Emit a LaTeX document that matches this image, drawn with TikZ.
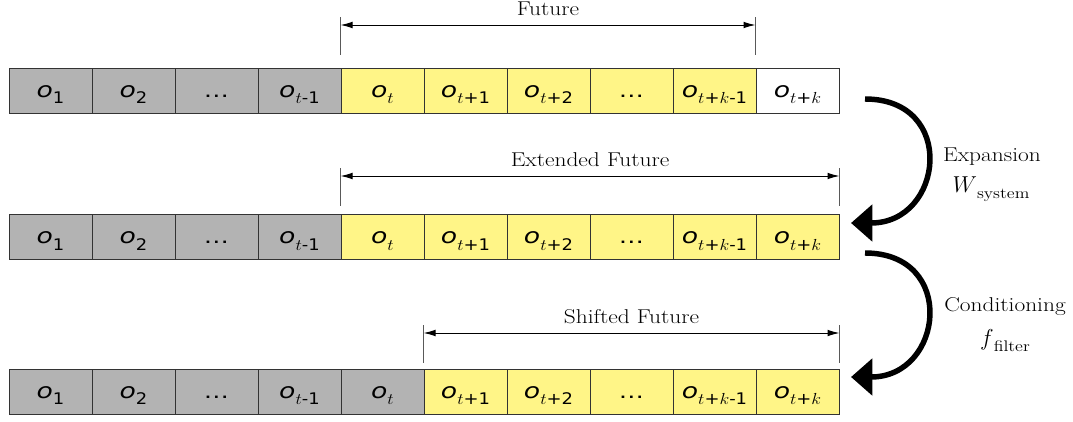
\documentclass[tikz,border=0pt]{standalone}
\usepackage{fontspec}
\usetikzlibrary{arrows.meta,positioning}
\newfontfamily\cellfont{DejaVu Sans}
\definecolor{pastgray}{RGB}{179,179,179}
\definecolor{futyellow}{RGB}{255,245,135}
\tikzset{>={Latex[length=9pt,width=5pt]}}
\newcommand{\wide}[1]{\scalebox{1.17}[1]{#1}}
\newcommand{\obs}[1]{\scalebox{1.25}[1]{\fontsize{16}{16}\selectfont\itshape o}\raisebox{-5pt}{\fontsize{12}{12}\selectfont\scalebox{1.12}[1]{#1}}}
\newcommand{\skipped}{\scalebox{1.3}[1]{…}}

\begin{document}
\begin{tikzpicture}[x=0.75pt, y=-0.75pt]
  \tikzstyle{obscell} = [draw=black!80, line width=0.75pt, minimum width=62.25pt, minimum height=33.75pt, inner sep=0pt, text height=10pt, text depth=0pt, font=\cellfont\fontsize{14.5}{16}\selectfont]
  \tikzstyle{spantick} = [draw=black!65, line width=0.6pt]
  \tikzstyle{spanarrow} = [<->, line width=0.75pt]
  \tikzstyle{lab} = [font=\fontsize{15}{17}\selectfont, inner sep=2pt]
  \tikzstyle{turnarrow} = [-{Triangle[length=16pt,width=27pt]}, line width=4.1pt]
  \useasboundingbox (0,0) rectangle (1073,421);

  % row / centre y / last grey cell / last yellow cell
  \foreach \r/\y/\ng/\ny in {1/90.5/4/9, 2/237/4/10, 3/391.5/5/10}{
    \foreach \lab [count=\i] in {\obs{1}, \obs{2}, \skipped, \obs{$t$-1}, \obs{$t$}, \obs{$t$+1}, \obs{$t$+2}, \skipped, \obs{$t$+$k$-1}, \obs{$t$+$k$}}{
      \ifnum\i>\ny \def\fc{white}\else\ifnum\i>\ng \def\fc{futyellow}\else\def\fc{pastgray}\fi\fi
      \node[obscell, fill=\fc] (c\r-\i) at ({50.5+83*(\i-1)}, \y) {\lab};
    }
  }

  \coordinate (fut-l) at (c1-5.north west |- 0,25);
  \coordinate (fut-r) at (c1-10.north west |- 0,25);
  \coordinate (ext-l) at (c2-5.north west |- 0,176);
  \coordinate (ext-r) at (c2-10.north east |- 0,176);
  \coordinate (shf-l) at (c3-6.north west |- 0,333);
  \coordinate (shf-r) at (c3-10.north east |- 0,333);
  \foreach \s in {fut-l, fut-r, ext-l, ext-r, shf-l, shf-r}
    \draw[spantick] ([yshift=6pt]\s) -- ([yshift=-22.5pt]\s);
  \draw[spanarrow] (fut-l) -- node[lab, above=4.5pt] (futlab) {\wide{Future}} (fut-r);
  \draw[spanarrow] (ext-l) -- node[lab, above=4.5pt] (extlab) {\wide{Extended Future}} (ext-r);
  \draw[spanarrow] (shf-l) -- node[lab, above=4.5pt] (shflab) {\wide{Shifted Future}} (shf-r);

  \coordinate (exp-s) at (865,99);
  \coordinate (exp-e) at (851,223);
  \coordinate (cond-s) at (865,253);
  \coordinate (cond-e) at (851,377);
  \draw[turnarrow] (exp-s) to[out=0, in=0, looseness=1.9] (exp-e);
  \draw[turnarrow] (cond-s) to[out=0, in=0, looseness=1.9] (cond-e);

  \node[lab, anchor=base] (expand) at (992,161) {\wide{Expansion}};
  \node[anchor=base] (wsys) at (991,192) {\fontsize{19}{20}\selectfont$W$\raisebox{-5pt}{\fontsize{11.5}{12}\selectfont\wide{system}}};
  \node[lab, anchor=base] (cond) at (1005,311) {\wide{Conditioning}};
  \node[anchor=base] (ffilt) at (1005,345) {\fontsize{19}{20}\selectfont$f$\raisebox{-5pt}{\fontsize{11.5}{12}\selectfont\wide{filter}}};
\end{tikzpicture}
\end{document}
